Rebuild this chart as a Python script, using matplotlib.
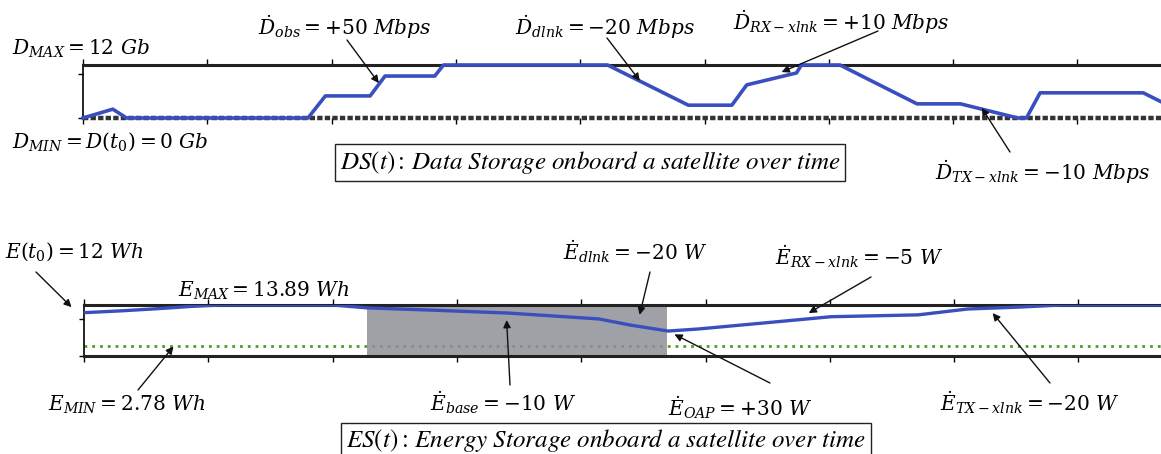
import matplotlib
matplotlib.use("Agg")
import matplotlib.pyplot as plt
import numpy as np

plt.rcParams['mathtext.fontset'] = 'dejavuserif'
plt.rcParams['font.family'] = ['DejaVu Serif']

# ---- data (time in tick units) ----
ds_time = [0, 0.24, 0.35, 1.81, 1.95, 2.31, 2.43, 2.83, 2.90, 4.22, 4.87, 5.22, 5.34,
           5.74, 5.78, 6.09, 6.71, 7.06, 7.52, 7.59, 7.70, 8.53, 8.75]
ds_value = [0, 2.0, 0, 0, 5.0, 5.0, 9.5, 9.5, 12, 12, 2.9, 2.9, 7.5,
            10.2, 12, 12, 3.2, 3.2, 0, 0, 5.7, 5.7, 2.6]
D_MAX = 12
D_MIN = 0

es_time = [0, 0.3, 0.6, 0.86, 1.1, 2.0, 2.28, 2.79, 3.41, 4.14, 4.40, 4.70, 4.94,
           5.47, 6.01, 6.71, 7.11, 7.51, 7.86, 9.0]
es_value = [11.8, 12.3, 12.9, 13.5, 13.89, 13.89, 13.1, 12.5, 11.7, 10.1, 8.4, 6.8, 7.35,
            9.0, 10.7, 11.2, 12.8, 13.3, 13.89, 13.89]
E_MAX = 13.89
E_MIN = 2.78
eclipse = (2.28, 4.69)

x_ticks = list(range(0, 10))
ds_yticks = [0, 10]
es_yticks = [0, 10]

W, H = 1161, 454
fig = plt.figure(figsize=(W / 100, H / 100), dpi=100)

def fpos(left, top, bottom, right_t=9.0, tick_px=124.3):
    return [left / W, (H - bottom) / H, right_t * tick_px / W, (bottom - top) / H]

blue = '#3a4fbf'

def style_axes(ax, ylim, yticks):
    ax.set_xlim(0, 9)
    ax.set_ylim(*ylim)
    ax.set_xticks(x_ticks)
    ax.set_yticks(yticks)
    ax.set_xticklabels([])
    ax.set_yticklabels([])
    ax.tick_params(axis='x', direction='out', length=4, width=1, top=True, bottom=True)
    ax.tick_params(axis='y', direction='out', length=3.5, width=1, left=True, right=False)
    for s in ['top', 'bottom']:
        ax.spines[s].set_linewidth(2.2)
        ax.spines[s].set_color('#222222')
    ax.spines['left'].set_linewidth(1.2)
    ax.spines['right'].set_visible(False)

# ---- top axes: data storage ----
ax1 = fig.add_axes(fpos(83, 65, 118))
style_axes(ax1, (D_MIN, D_MAX), ds_yticks)
ax1.spines['bottom'].set_visible(False)
ax1.axhline(D_MIN, color='#333333', lw=3.2, dashes=(1.2, 0.5), zorder=2, clip_on=False)
ax1.plot(ds_time, ds_value, color=blue, lw=2.6, zorder=3, clip_on=False)

# ---- bottom axes: energy storage ----
ax2 = fig.add_axes(fpos(84, 305, 356))
style_axes(ax2, (0, E_MAX), es_yticks)
ax2.axhline(E_MIN, color='#4f9a2a', lw=2.0, dashes=(1, 1.8), zorder=1)
ax2.axvspan(*eclipse, color='#8f8f98', alpha=0.85, zorder=2, lw=0)
ax2.plot(es_time, es_value, color=blue, lw=2.4, zorder=3)

FS = 14.5

def ftext(x, y, s, ha='left', **kw):
    fig.text(x / W, 1 - y / H, s, ha=ha, va='center', fontsize=kw.pop('fontsize', FS), **kw)

def arrow(ax, xy, tail):
    ax.annotate('', xy=xy, xycoords='data', xytext=(tail[0], H - tail[1]),
                textcoords='figure pixels', annotation_clip=False,
                arrowprops=dict(arrowstyle='-|>', color='#111111', lw=1.0,
                                mutation_scale=11, shrinkA=0, shrinkB=0))

box = dict(boxstyle='square,pad=0.2', fc='white', ec='#222222', lw=1)

# top labels
ftext(12, 49, r'$D_{MAX}=12\ Gb$')
ftext(12, 142, r'$D_{MIN}=D(t_0)=0\ Gb$')
ftext(258, 27, r'$\dot{D}_{obs}=+50\ Mbps$')
ftext(515, 27, r'$\dot{D}_{dlnk}=-20\ Mbps$')
ftext(733, 22, r'$\dot{D}_{RX-xlnk}=+10\ Mbps$')
ftext(935, 172, r'$\dot{D}_{TX-xlnk}=-10\ Mbps$')
ftext(590, 162, r'$DS(t){:}\,Data\ Storage\ onboard\ a\ satellite\ over\ time$', ha='center',
      fontsize=18, math_fontfamily='stix', bbox=box)

arrow(ax1, (2.38, 7.9), (347, 40))
arrow(ax1, (4.48, 8.4), (607, 38))
arrow(ax1, (5.62, 10.4), (878, 31))
arrow(ax1, (7.23, 2.3), (1010, 152))

# bottom labels
ftext(5, 252, r'$E(t_0)=12\ Wh$')
ftext(178, 291, r'$E_{MAX}=13.89\ Wh$')
ftext(563, 252, r'$\dot{E}_{dlnk}=-20\ W$')
ftext(775, 257, r'$\dot{E}_{RX-xlnk}=-5\ W$')
ftext(48, 405, r'$E_{MIN}=2.78\ Wh$')
ftext(430, 403, r'$\dot{E}_{base}=-10\ W$')
ftext(668, 408, r'$\dot{E}_{OAP}=+30\ W$')
ftext(940, 403, r'$\dot{E}_{TX-xlnk}=-20\ W$')
ftext(606, 441, r'$ES(t){:}\,Energy\ Storage\ onboard\ a\ satellite\ over\ time$', ha='center',
      fontsize=18, math_fontfamily='stix', bbox=box)

arrow(ax2, (-0.1, 13.3), (36, 272))
arrow(ax2, (4.47, 11.2), (650, 272))
arrow(ax2, (5.83, 11.7), (871, 277))
arrow(ax2, (0.72, 2.6), (138, 390))
arrow(ax2, (3.40, 9.8), (510, 385))
arrow(ax2, (4.75, 5.9), (770, 383))
arrow(ax2, (7.31, 11.7), (1050, 383))

fig.savefig('out.png', dpi=100)
